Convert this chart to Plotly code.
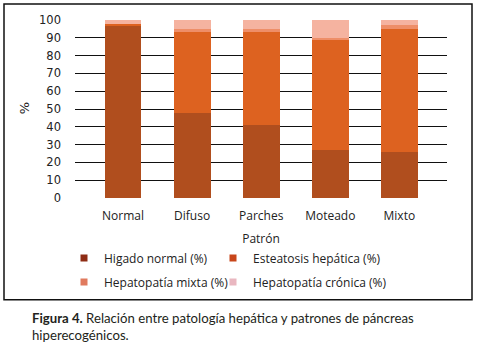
import plotly.graph_objects as go

categories = ["Normal", "Difuso", "Parches", "Moteado", "Mixto"]
higado_normal = [97, 48, 41, 27, 26]
esteatosis = [1, 45, 52, 62, 69]
hepatopatia_mixta = [0, 2, 2, 1, 2]
hepatopatia_cronica = [2, 5, 5, 10, 3]
y_ticks = [0, 10, 20, 30, 40, 50, 60, 70, 80, 90, 100]

series = [
    ("Higado normal (%)", higado_normal, "#B04E1E", "#8E2C14"),
    ("Esteatosis hepática (%)", esteatosis, "#DD6220", "#C8461A"),
    ("Hepatopatía mixta (%)", hepatopatia_mixta, "#EE8E68", "#E07A5E"),
    ("Hepatopatía crónica (%)", hepatopatia_cronica, "#F5B3A0", "#E9B7C0"),
]
legend_ids = ["legend", "legend2", "legend3", "legend4"]

W, H = 480, 347
L, R, T, B = 75, 447, 19.5, 198

fig = go.Figure()
for (name, vals, col, lcol), lg in zip(series, legend_ids):
    fig.add_trace(go.Bar(
        x=categories, y=vals, name=name, marker=dict(color=col, line=dict(width=0)),
        width=0.535, showlegend=False,
    ))
for (name, vals, col, lcol), lg in zip(series, legend_ids):
    fig.add_trace(go.Scatter(
        x=[None], y=[None], mode="markers", name=name, legend=lg,
        marker=dict(symbol="square", size=7, color=lcol, line=dict(width=0)),
    ))

def px(x):
    return (x - L) / (R - L)

def py(y):
    return (B - y) / (B - T)

legend_common = dict(
    orientation="v", xref="container", yref="container", xanchor="left", yanchor="middle",
    itemwidth=30, traceorder="normal",
    font=dict(family="Open Sans", size=12, color="#222"), bgcolor="rgba(0,0,0,0)",
)
legend_pos = {
    "legend": (64, 258), "legend2": (213, 258),
    "legend3": (64, 282), "legend4": (213, 282),
}

layout_legends = {k: dict(x=v[0] / W, y=1 - v[1] / H, **legend_common) for k, v in legend_pos.items()}

fig.update_layout(
    width=W, height=H,
    margin=dict(l=L, r=W - R, t=T, b=H - B, autoexpand=False),
    barmode="stack",
    plot_bgcolor="white", paper_bgcolor="white",
    font=dict(family="Open Sans", size=12, color="#222"),
    xaxis=dict(
        range=[-0.695, 4.69], showgrid=False, showline=False, ticks="",
        ticklabelstandoff=9,
        tickfont=dict(family="Open Sans", size=12, color="#222"),
        title=dict(text="Patrón", font=dict(family="Open Sans", size=12, color="#222"), standoff=11),
    ),
    yaxis=dict(
        range=[0, 100], tickvals=y_ticks, showgrid=True, gridcolor="#111", gridwidth=1,
        zeroline=False, showline=False, ticks="", ticklabelstandoff=13,
        tickfont=dict(family="DejaVu Sans", size=11.5, color="#222"),
    ),
    showlegend=True,
    **layout_legends,
)

fig.add_shape(type="rect", xref="paper", yref="paper",
              x0=px(4), x1=px(472), y0=py(300), y1=py(3.5),
              line=dict(color="#111", width=1.5), layer="below")

fig.add_annotation(
    xref="paper", yref="paper", x=px(24), y=py(108), xanchor="center", yanchor="middle",
    text="%", textangle=-90, showarrow=False,
    font=dict(family="DejaVu Sans", size=13, color="#222"),
)

fig.add_annotation(
    xref="paper", yref="paper", x=px(30), y=py(318), xanchor="left", yanchor="middle",
    text="<b>Figura 4.</b> Relación entre patología hepática y patrones de páncreas",
    showarrow=False, font=dict(family="Lato", size=13.2, color="#231F20"),
)
fig.add_annotation(
    xref="paper", yref="paper", x=px(30), y=py(335), xanchor="left", yanchor="middle",
    text="hiperecogénicos.",
    showarrow=False, font=dict(family="Lato", size=13.2, color="#231F20"),
)

fig.write_html(
    "out.html",
    config={"displayModeBar": False},
    post_script="document.body.style.margin='0';document.body.style.padding='0';",
)
